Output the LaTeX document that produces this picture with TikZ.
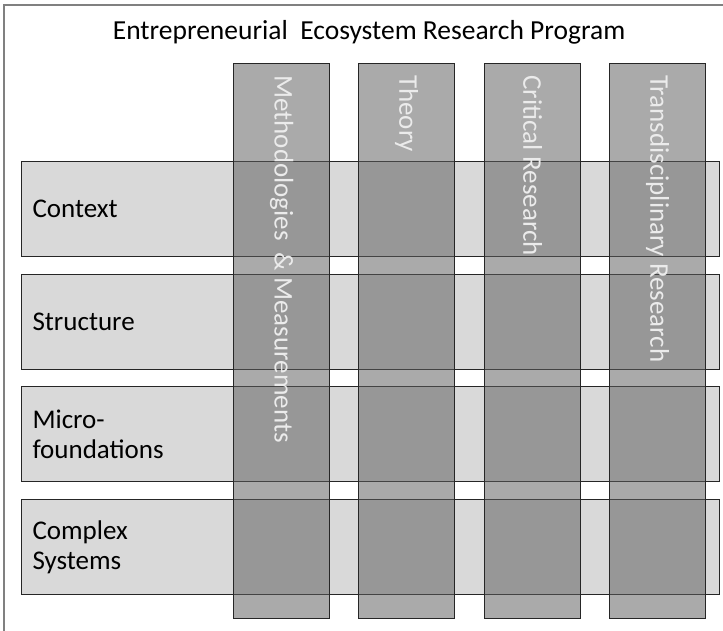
\documentclass[tikz,border=0pt]{standalone}
\usepackage{fontspec}
\setmainfont{Carlito}
\usetikzlibrary{positioning}

\begin{document}
\begin{tikzpicture}[x=1pt, y=-1pt,
                    rowbox/.style={draw=black!85, line width=1.1pt, fill=black!15,
                                   anchor=north west, minimum width=698pt,
                                   minimum height=95pt, text width=676pt,
                                   inner xsep=11pt, align=left,
                                   font=\fontsize{27}{30}\selectfont},
                    colbox/.style={draw=black!85, line width=1.1pt, fill=black!63,
                                   fill opacity=.53, anchor=north west,
                                   minimum width=96pt, minimum height=555pt},
                    coltext/.style={rotate=-90, anchor=west, inner sep=0pt,
                                    text=white!92!black,
                                    font=\fontsize{27}{30}\selectfont}]
    \useasboundingbox (0,0) rectangle (723,631);

    % frame
    \draw[black!50, line width=1.5pt] (4,631) -- (4,5) -- (723,5);
    \node[anchor=base, font=\fontsize{27.5}{30}\selectfont] (title) at (369,40)
        {Entrepreneurial\ \ Ecosystem Research Program};

    % rows
    \node[rowbox] (context) at (21,161) {Context};
    \node[rowbox] (structure) at (21,273.5) {Structure};
    \node[rowbox] (micro) at (21,386) {Micro-\\foundations};
    \node[rowbox] (complex) at (21,499) {Complex\\Systems};

    % columns
    \node[colbox] (method) at (233,63) {};
    \node[colbox] (theory) at (358,63) {};
    \node[colbox] (critical) at (484,63) {};
    \node[colbox] (trans) at (609,63) {};

    % column labels
    \node[coltext] (methodT) at (method.north |- 0,75) {Methodologies\ \ \& Measurements};
    \node[coltext] (theoryT) at (theory.north |- 0,75) {Theory};
    \node[coltext] (criticalT) at (critical.north |- 0,75) {Critical Research};
    \node[coltext] (transT) at (trans.north |- 0,75) {Transdisciplinary Research};
\end{tikzpicture}
\end{document}
